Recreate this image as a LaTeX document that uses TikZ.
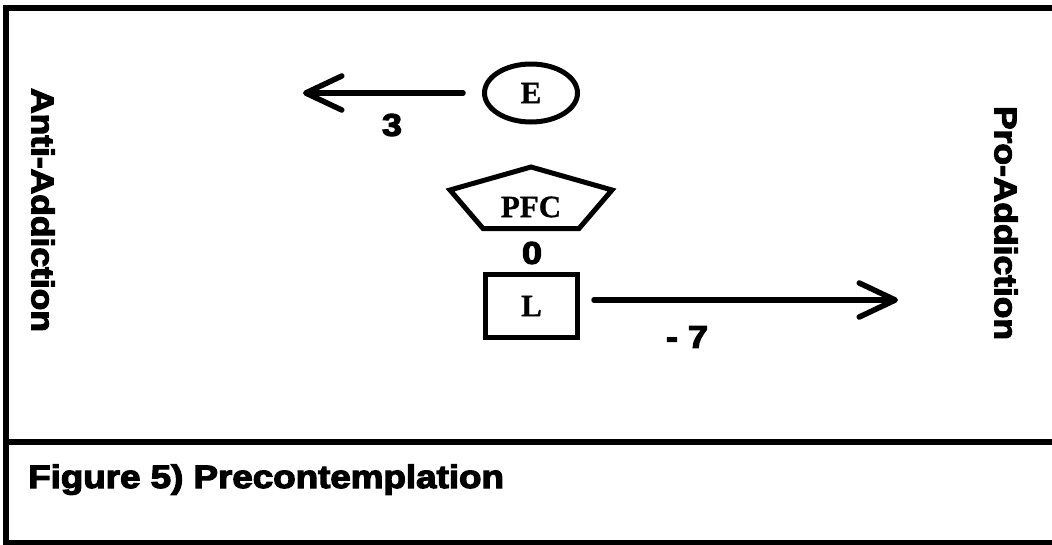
\documentclass[tikz,border=0pt]{standalone}
\usepackage{fontspec}
\usetikzlibrary{shapes.geometric,arrows.meta}
\newfontfamily\heavyfont[BoldFeatures={FakeBold=3.5}]{Liberation Sans}
\newfontfamily\serifbold[BoldFeatures={FakeBold=1}]{Liberation Serif}
\tikzset{
  frame/.style={line width=6pt},
  heavy/.style={font=\heavyfont\bfseries\fontsize{30}{30}\selectfont, inner sep=0pt},
  serifl/.style={font=\serifbold\bfseries\fontsize{31}{31}\selectfont, inner sep=0pt},
  shapeline/.style={draw, line width=5pt},
  arr/.style={line width=5.5pt, line cap=round, -{Straight Barb[length=36pt, width=34pt, line cap=round, line join=round]}},
}
\begin{document}
\begin{tikzpicture}[x=1pt, y=-1pt]
\useasboundingbox (0,0) rectangle (1052,544);
% frame
\draw[frame] (6,5) -- (6,544);
\draw[frame] (3,8) -- (1052,8);
\draw[frame] (3,442) -- (1052,442);
\draw[frame] (3,543) -- (1052,543);
% side labels
\node[heavy, rotate=-90] (anti) at (43,210) {\scalebox{1.18}[1.05]{Anti-Addiction}};
\node[heavy, rotate=-90] (pro) at (1006,223) {\scalebox{1.18}[1.05]{Pro-Addiction}};
% E
\node[shapeline, ellipse, minimum width=93pt, minimum height=58pt, inner sep=0pt, serifl] (E) at (531,93) {E};
\coordinate (tipE) at (303,93);
\draw[arr, shorten <=19pt] (E.west) -- (tipE);
\node[heavy] (w3) at (392,125) {\scalebox{1.2}[1.05]{3}};
% PFC pentagon
\coordinate (p1) at (531,167);
\coordinate (p2) at (612,190);
\coordinate (p3) at (579,228.5);
\coordinate (p4) at (483,228.5);
\coordinate (p5) at (450,190);
\draw[line width=5pt, line join=miter] (p1) -- (p2) -- (p3) -- (p4) -- (p5) -- cycle;
\node[serifl] (PFC) at (531,207) {PFC};
\node[heavy] (w0) at (532,253) {\scalebox{1.2}[1.05]{0}};
% L
\node[shapeline, rectangle, minimum width=92pt, minimum height=63pt, inner sep=0pt, serifl] (L) at (531.5,306) {L};
\coordinate (tipL) at (898,300);
\draw[arr, shorten <=14pt] (L.east |- tipL) -- (tipL);
\node[heavy] (w7) at (687,337) {\scalebox{1.2}[1.05]{- 7}};
% caption
\node[heavy, anchor=base west] (cap) at (28,488) {\scalebox{1.225}[1.08]{Figure 5) Precontemplation}};
\end{tikzpicture}
\end{document}
